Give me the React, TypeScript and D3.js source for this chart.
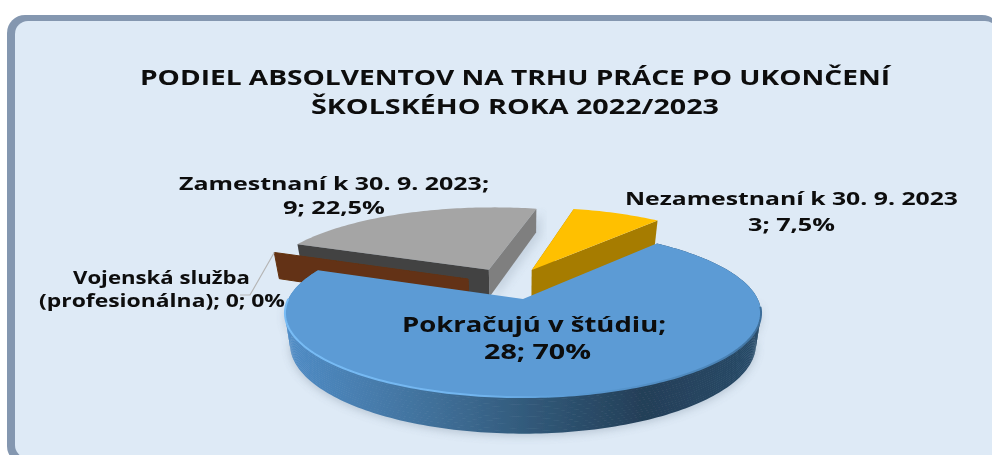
import React from "react";
import * as d3 from "d3";

const categories = ["Pokračujú v štúdiu", "Vojenská služba (profesionálna)", "Zamestnaní k 30. 9. 2023", "Nezamestnaní k 30. 9. 2023"];
const values = [28, 0, 9, 3];
const colors = ["#5b9bd5", "#633212", "#a5a5a5", "#ffc000"];
const titleLines = ["PODIEL ABSOLVENTOV NA TRHU PRÁCE PO UKONČENÍ", "ŠKOLSKÉHO ROKA 2022/2023"];

const W = 992, H = 455;
const persp = 0.167;
const depth = 29;
const startDeg = 40;
// explosion of each slice in pie-plane units
const explode = [[0, 0], [-0.244, -0.255], [-0.155, -0.38], [0.04, -0.377]];

const xScale = d3.scaleLinear().domain([-1, 1]).range([523 - 234.7, 523 + 234.7]);
const yScale = d3.scaleLinear().domain([-1, 1]).range([299 - 81.7, 299 + 81.7]);

const pie = d3.pie<number>().sort(null).startAngle((startDeg * Math.PI) / 180).endAngle((startDeg * Math.PI) / 180 + 2 * Math.PI);
const arcs = pie(values);

type P = [number, number];
const project = (u: number, v: number, drop = 0): P => {
  const w = 1 - persp * v;
  const shrink = 1 - drop * 0.0007;
  return [xScale((u / w) * shrink), yScale(v / w) + drop / w];
};
const rimPoint = (i: number, a: number, drop = 0): P => {
  const [ox, oy] = explode[i];
  return project(Math.sin(a) + ox, -Math.cos(a) + oy, drop);
};
const apexPoint = (i: number, drop = 0): P => project(explode[i][0], explode[i][1], drop);
const rim = (i: number, a0: number, a1: number, drop = 0): P[] => {
  const n = Math.max(2, Math.ceil(Math.abs(a1 - a0) / 0.02));
  return d3.range(n + 1).map((k) => rimPoint(i, a0 + ((a1 - a0) * k) / n, drop));
};
const line = d3.line<P>();
const closed = (pts: P[]) => line(pts) + "Z";

const topFace = (i: number) => closed([apexPoint(i), ...rim(i, arcs[i].startAngle, arcs[i].endAngle)]);
const wall = (i: number, a: number) => closed([apexPoint(i), rimPoint(i, a), rimPoint(i, a, depth), apexPoint(i, depth)]);
const strip = (i: number, a0: number, a1: number, d0: number, d1: number) => closed([...rim(i, a0, a1, d0), ...rim(i, a1, a0, d1)]);
const stripDrops = d3.range(0, depth, 2);

const [BLUE, BROWN, GRAY, YELLOW] = [0, 1, 2, 3];
const font = "'Open Sans', sans-serif";

type Lab = { t: string; x0: number; x1: number; y: number; s: number };
const labels: Lab[] = [
  { t: titleLines[0], x0: 140, x1: 890, y: 85, s: 21 },
  { t: titleLines[1], x0: 311, x1: 719, y: 114, s: 21 },
  { t: `${categories[2]};`, x0: 179, x1: 489, y: 190, s: 18.5 },
  { t: `${values[2]}; 22,5%`, x0: 283, x1: 385, y: 214, s: 18.5 },
  { t: "Vojenská služba", x0: 73, x1: 250, y: 284, s: 18.5 },
  { t: `(profesionálna); ${values[1]}; 0%`, x0: 39, x1: 285, y: 307, s: 18.5 },
  { t: categories[3], x0: 625, x1: 958, y: 205, s: 18.5 },
  { t: `${values[3]}; 7,5%`, x0: 748, x1: 835, y: 231, s: 18.5 },
  { t: `${categories[0]};`, x0: 402, x1: 666, y: 332, s: 21.5 },
  { t: `${values[0]}; 70%`, x0: 484, x1: 591, y: 359, s: 21.5 },
];

export default function App() {
  const b = arcs[BLUE], g = arcs[GRAY], y = arcs[YELLOW], br = arcs[BROWN];
  return (
    <svg width={W} height={H} viewBox={`0 0 ${W} ${H}`} style={{ position: "absolute", left: 0, top: 0, display: "block" }}>
      <defs>
        <linearGradient id="wallBlue" gradientUnits="userSpaceOnUse" x1={285} x2={762} y1={0} y2={0}>
          <stop offset="0" stopColor="#4f8cc6" />
          <stop offset="0.3" stopColor="#41719b" />
          <stop offset="0.55" stopColor="#2f5574" />
          <stop offset="0.75" stopColor="#243f58" />
          <stop offset="1" stopColor="#274a68" />
        </linearGradient>
        <linearGradient id="rimBlue" gradientUnits="userSpaceOnUse" x1={285} x2={762} y1={0} y2={0}>
          <stop offset="0" stopColor="#78bcf5" />
          <stop offset="0.4" stopColor="#72b5ef" />
          <stop offset="0.6" stopColor="#5b9bd5" />
          <stop offset="0.9" stopColor="#4c85b8" />
          <stop offset="1" stopColor="#3d6d99" />
        </linearGradient>
        <filter id="soft" x="-10%" y="-20%" width="120%" height="140%">
          <feGaussianBlur stdDeviation="4" />
        </filter>
        <filter id="blur" x="-5%" y="-5%" width="110%" height="110%">
          <feGaussianBlur stdDeviation="0.45" />
        </filter>
      </defs>

      <rect x={7} y={15} width={993} height={449} rx={18} fill="#8497b0" />
      <rect x={15} y={21} width={983} height={437} rx={13} fill="#deeaf6" />

      <g filter="url(#blur)">
        {/* soft shadows */}
        <path d={strip(BLUE, Math.PI * 0.5, Math.PI * 1.5, 0, depth)} fill="#7f8fa0" opacity={0.4} transform="translate(0,4)" filter="url(#soft)" />
        <path d={wall(GRAY, g.endAngle)} fill="#7f8fa0" opacity={0.25} transform="translate(5,3)" filter="url(#soft)" />

        {/* gray slice */}
        <path d={topFace(GRAY)} fill={colors[GRAY]} />
        <path d={wall(GRAY, g.endAngle)} fill="#7f7f7f" />
        <path d={wall(GRAY, g.startAngle)} fill="#434343" />

        {/* zero-sized slice: only its wall shows */}
        <path d={wall(BROWN, br.startAngle)} fill={colors[BROWN]} stroke={colors[BROWN]} strokeWidth={1} strokeLinejoin="round" />
        <path
          d={line([rimPoint(BROWN, br.startAngle), [250, 295], [240, 295]])!}
          fill="none"
          stroke="#b5b5b5"
          strokeWidth={1.2}
        />

        {/* yellow slice */}
        <path d={wall(YELLOW, y.endAngle)} fill="#a67c00" />
        <path d={wall(YELLOW, y.startAngle)} fill="#a67c00" />
        <path d={topFace(YELLOW)} fill={colors[YELLOW]} />

        {/* blue slice */}
        {stripDrops.map((d) => (
          <path key={d} d={strip(BLUE, b.startAngle, b.endAngle, d, d + 2.5)} fill="url(#wallBlue)" />
        ))}
        <path d={topFace(BLUE)} fill={colors[BLUE]} />
        <path d={line(rim(BLUE, Math.PI * 0.53, Math.PI * 1.5))!} fill="none" stroke="url(#rimBlue)" strokeWidth={2} />

        {labels.map((l) => (
          <text
            key={l.t}
            x={l.x0}
            y={l.y}
            fontFamily={font}
            fontWeight={700}
            fontSize={l.s}
            fill="#0a0a0a"
            textLength={l.x1 - l.x0}
            lengthAdjust="spacingAndGlyphs"
          >
            {l.t}
          </text>
        ))}
      </g>
    </svg>
  );
}
